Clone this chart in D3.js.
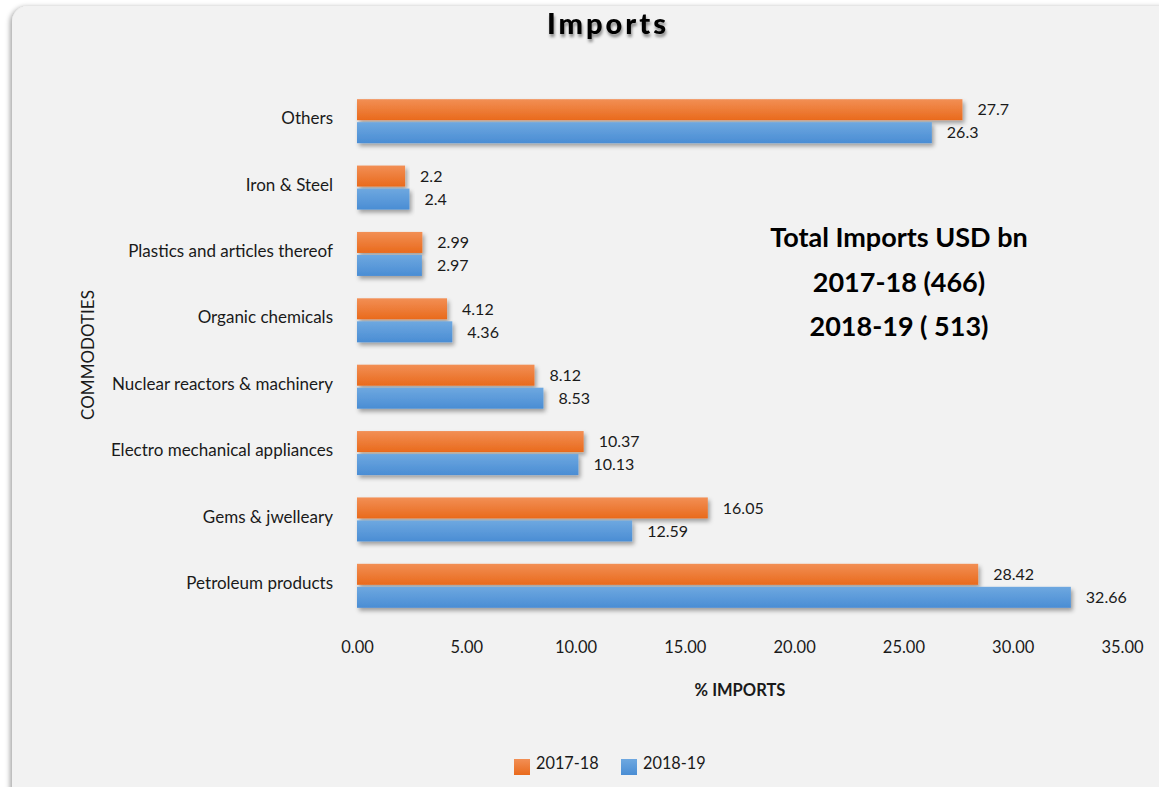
<!DOCTYPE html>
<html>
<head>
<meta charset="utf-8">
<script src="https://cdn.jsdelivr.net/npm/d3@7/dist/d3.min.js"></script>
<style>
  html, body { margin: 0; padding: 0; background: #ffffff; }
  svg { display: block; font-family: Lato, "Open Sans", sans-serif; }
</style>
</head>
<body>
<svg id="chart" width="1159" height="787"></svg>
<script>
// Commodity import shares (% of total imports), bottom-to-top order
const categories = [
  "Petroleum products",
  "Gems & jwelleary",
  "Electro mechanical appliances",
  "Nuclear reactors & machinery",
  "Organic chemicals",
  "Plastics and articles thereof",
  "Iron & Steel",
  "Others"
];
const values2017 = [28.42, 16.05, 10.37, 8.12, 4.12, 2.99, 2.2, 27.7];
const values2018 = [32.66, 12.59, 10.13, 8.53, 4.36, 2.97, 2.4, 26.3];
const valueLabels2017 = ["28.42", "16.05", "10.37", "8.12", "4.12", "2.99", "2.2", "27.7"];
const valueLabels2018 = ["32.66", "12.59", "10.13", "8.53", "4.36", "2.97", "2.4", "26.3"];
const seriesNames = ["2017-18", "2018-19"];
const xTicks = [0, 5, 10, 15, 20, 25, 30, 35];
const totalsText = ["Total Imports USD bn", "2017-18 (466)", "2018-19 ( 513)"];

const svg = d3.select("#chart");
const defs = svg.append("defs");

// Panel drop shadow
const panelShadow = defs.append("filter").attr("id", "panelShadow")
  .attr("x", "-5%").attr("y", "-5%").attr("width", "110%").attr("height", "110%");
panelShadow.append("feDropShadow").attr("dx", -2).attr("dy", 1).attr("stdDeviation", 2.5)
  .attr("flood-color", "#000").attr("flood-opacity", 0.35);

// Bar shadow
const barShadow = defs.append("filter").attr("id", "barShadow")
  .attr("x", "-5%").attr("y", "-30%").attr("width", "115%").attr("height", "190%");
barShadow.append("feDropShadow").attr("dx", 2).attr("dy", 3).attr("stdDeviation", 2)
  .attr("flood-color", "#000").attr("flood-opacity", 0.35);

// Title shadow
const titleShadow = defs.append("filter").attr("id", "titleShadow")
  .attr("x", "-10%").attr("y", "-30%").attr("width", "120%").attr("height", "170%");
titleShadow.append("feDropShadow").attr("dx", 1).attr("dy", 3).attr("stdDeviation", 1.6)
  .attr("flood-color", "#000").attr("flood-opacity", 0.45);

function gradient(id, top, bottom) {
  const g = defs.append("linearGradient").attr("id", id)
    .attr("x1", 0).attr("y1", 0).attr("x2", 0).attr("y2", 1);
  g.append("stop").attr("offset", "0%").attr("stop-color", top);
  g.append("stop").attr("offset", "100%").attr("stop-color", bottom);
}
gradient("gOrange", "#f28f55", "#e96a1c");
gradient("gBlue", "#6ea8e0", "#4a8dd4");
const fills = ["url(#gOrange)", "url(#gBlue)"];

// Background panel
svg.append("rect")
  .attr("x", 12).attr("y", 6).attr("width", 1180).attr("height", 820)
  .attr("rx", 16).attr("ry", 16)
  .attr("fill", "#f2f2f2")
  .attr("filter", "url(#panelShadow)");

// Scales
const x = d3.scaleLinear().domain([0, 35]).range([357, 1122]);
const y = d3.scaleBand().domain(categories.slice().reverse()).range([88, 619]).paddingInner(0).paddingOuter(0);
const barH = 21, barGap = 2;

// Title
svg.append("text")
  .attr("x", 608).attr("y", 34)
  .attr("text-anchor", "middle")
  .attr("font-size", 29).attr("font-weight", 900)
  .attr("letter-spacing", 3)
  .attr("fill", "#000")
  .attr("filter", "url(#titleShadow)")
  .text("Imports");

// Bars
const rows = categories.map((c, i) => ({ cat: c, vals: [values2017[i], values2018[i]], labels: [valueLabels2017[i], valueLabels2018[i]] }));
const gRows = svg.append("g").selectAll("g").data(rows).join("g");

[0, 1].forEach(s => {
  gRows.append("rect")
    .attr("x", x(0))
    .attr("y", d => y(d.cat) + y.bandwidth() / 2 - barH - barGap / 2 + s * (barH + barGap))
    .attr("width", d => x(d.vals[s]) - x(0))
    .attr("height", barH)
    .attr("fill", fills[s])
    .attr("filter", "url(#barShadow)");
  gRows.append("text")
    .attr("x", d => x(d.vals[s]) + 15)
    .attr("y", d => y(d.cat) + y.bandwidth() / 2 - barH / 2 - barGap / 2 + s * (barH + barGap))
    .attr("dy", "0.36em")
    .attr("font-size", 16).attr("fill", "#1a1a1a")
    .text(d => d.labels[s]);
});

// Category labels
svg.append("g").selectAll("text").data(categories).join("text")
  .attr("x", 333)
  .attr("y", d => y(d) + y.bandwidth() / 2 - 3)
  .attr("dy", "0.36em")
  .attr("text-anchor", "end")
  .attr("font-size", 17).attr("fill", "#1a1a1a")
  .text(d => d);

// X axis (labels only)
const xAxis = d3.axisBottom(x).tickValues(xTicks).tickFormat(d3.format(".2f")).tickSize(0).tickPadding(0);
const gx = svg.append("g").attr("transform", "translate(0,649)").call(xAxis);
gx.select(".domain").remove();
gx.selectAll("text").attr("font-size", 16.5).attr("fill", "#1a1a1a")
  .attr("font-family", "Lato, 'Open Sans', sans-serif").attr("dy", 0).attr("y", 0);
gx.selectAll("text").attr("dominant-baseline", "middle");

// Axis titles
svg.append("text")
  .attr("x", 740).attr("y", 696)
  .attr("text-anchor", "middle")
  .attr("font-size", 16.5).attr("font-weight", 700).attr("fill", "#1a1a1a")
  .text("% IMPORTS");

svg.append("text")
  .attr("transform", "translate(94,355) rotate(-90)")
  .attr("text-anchor", "middle")
  .attr("font-size", 17).attr("fill", "#1a1a1a")
  .text("COMMODOTIES");

// Totals annotation
svg.append("g").selectAll("text").data(totalsText).join("text")
  .attr("x", 899)
  .attr("y", (d, i) => 247 + i * 44.5)
  .attr("text-anchor", "middle")
  .attr("font-size", 27).attr("font-weight", 700).attr("fill", "#000")
  .text(d => d);

// Legend
const legend = svg.append("g");
const legendX = [514, 621];
seriesNames.forEach((name, i) => {
  legend.append("rect")
    .attr("x", legendX[i]).attr("y", 759).attr("width", 16).attr("height", 16)
    .attr("fill", fills[i]);
  legend.append("text")
    .attr("x", legendX[i] + 22).attr("y", 763)
    .attr("dy", "0.36em")
    .attr("font-size", 16.3).attr("fill", "#1a1a1a")
    .text(name);
});
</script>
</body>
</html>
